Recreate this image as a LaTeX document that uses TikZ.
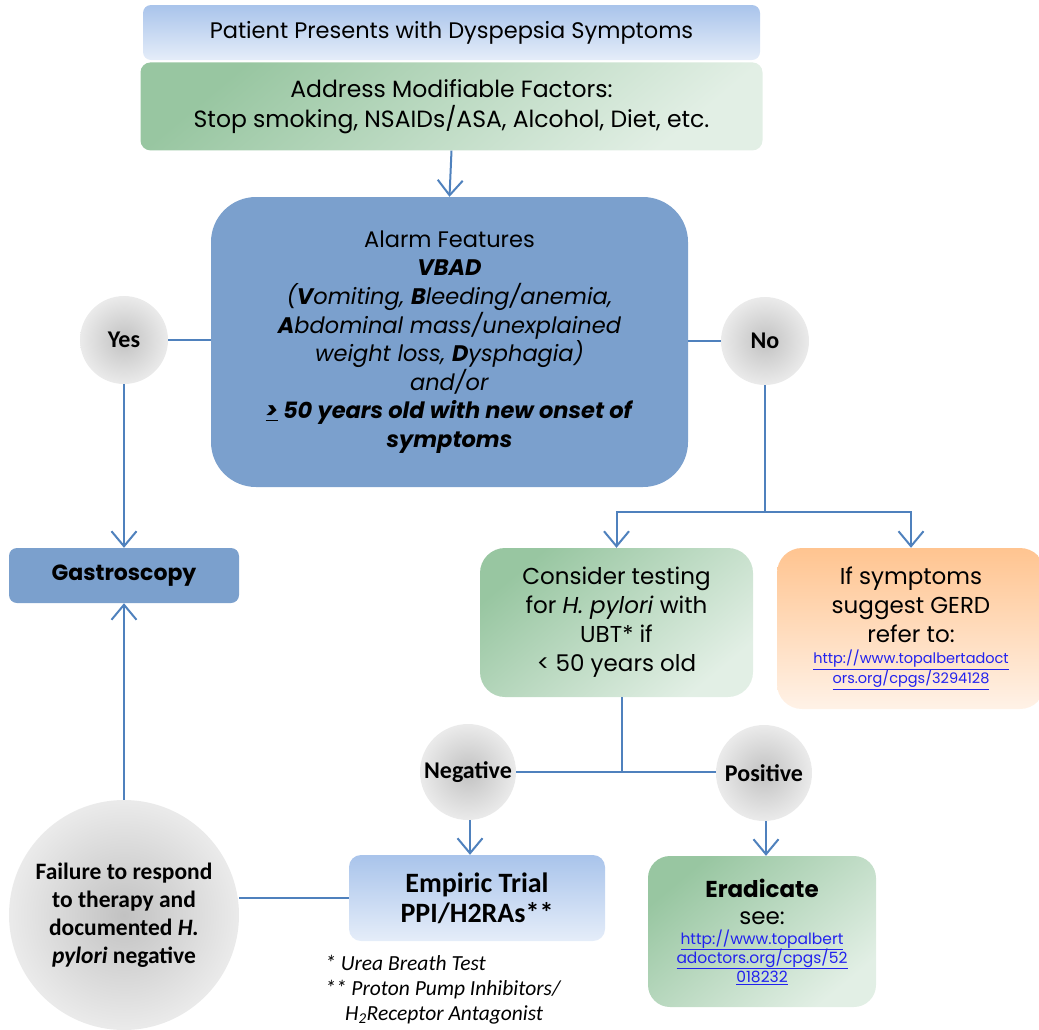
\documentclass[tikz,border=0pt]{standalone}
\usepackage{fontspec}
\setmainfont{Poppins}
\newfontfamily\calib{Carlito}
\usetikzlibrary{positioning, arrows.meta}
\definecolor{linea}{HTML}{4F81BD}
\definecolor{alarma}{HTML}{7BA0CD}
\definecolor{azulA}{HTML}{A9C4EB}
\definecolor{azulB}{HTML}{E5EDF9}
\definecolor{verdeA}{HTML}{98C6A1}
\definecolor{verdeB}{HTML}{E2EFE5}
\definecolor{naranjaA}{HTML}{FFC490}
\definecolor{naranjaB}{HTML}{FFF2E7}
\definecolor{enlace}{HTML}{2222EE}
\tikzset{flecha/.style={line width=2pt, color=linea, -{Straight Barb[length=15pt,width=25pt,line width=2pt]}}}
\tikzset{trazo/.style={line width=2pt, color=linea}}
\tikzset{bola/.style={circle, inner color=black!24, outer color=black!8, align=center, inner sep=0pt}}
\tikzset{cajaazul/.style={rounded corners=8pt, top color=azulA, bottom color=azulB, align=center}}
\tikzset{cajaverde/.style={rounded corners=#1, top color=verdeA, bottom color=verdeB, shading angle=40, align=center}}
\newcommand{\enl}[2][14.5]{{\fontsize{#1}{19}\selectfont\color{enlace}\underline{#2}}}

\begin{document}
\begin{tikzpicture}[
                x=1pt, y=-1pt,
                every node/.style={text=black}
            ]
                \useasboundingbox (0,0) rectangle (1039,1029);
                % cajas de arriba
                \node[cajaazul, minimum width=617pt, minimum height=55pt, font=\fontsize{22.5}{26}\selectfont] (paciente) at (451.5,32.5) {Patient Presents with Dyspepsia Symptoms};
                \node[cajaverde=10pt, below=2pt of paciente, minimum width=622pt, minimum height=88pt, font=\fontsize{23.5}{30}\selectfont] (factores) {Address Modifiable Factors:\\Stop smoking, NSAIDs/ASA, Alcohol, Diet, etc.};
                \node[rounded corners=45pt, fill=alarma, minimum width=477pt, minimum height=290pt, align=center, font=\fontsize{22.5}{28.6}\selectfont] (alarma) at (449.5,342) {Alarm Features\\
                    \textbf{\textit{VBAD}}\\
                    \textit{(\textbf{V}omiting, \textbf{B}leeding/anemia,}\\
                    \textit{\textbf{A}bdominal mass/unexplained}\\
                    \textit{weight loss, \textbf{D}ysphagia)}\\
                    \textit{and/or}\\
                    \textbf{\textit{\underline{>} 50 years old with new onset of}}\\
                    \textbf{\textit{symptoms}}};
                \node[bola, minimum size=88pt, font=\calib\bfseries\fontsize{24}{26}\selectfont] (si) at (124,340) {Yes};
                \node[bola, minimum size=88pt, font=\calib\bfseries\fontsize{24}{26}\selectfont] (no) at (765,341) {No};
                \node[rounded corners=8pt, fill=alarma, minimum width=230pt, minimum height=55pt, font=\bfseries\fontsize{22}{24}\selectfont] (gastro) at (124,575.5) {Gastroscopy};
                % rama del no
                \node[cajaverde=25pt, minimum width=273pt, minimum height=149pt, font=\fontsize{23}{29}\selectfont] (prueba) at (616.5,622.5) {Consider testing\\for \textit{H. pylori} with\\UBT* if\\< 50 years old};
                \node[rounded corners=25pt, top color=naranjaA, bottom color=naranjaB, minimum width=268pt, minimum height=161pt, align=center, font=\fontsize{23}{29}\selectfont] (gerd) at (911,628.5) {If symptoms\\suggest GERD\\refer to:\\[-8pt]\enl{http://www.topalbertadoct}\\[-9pt]\enl{ors.org/cpgs/3294128}};
                \node[bola, minimum size=96pt, font=\calib\bfseries\fontsize{24}{26}\selectfont] (negativo) at (468,772) {Negative};
                \node[bola, minimum size=96pt, font=\calib\bfseries\fontsize{24}{26}\selectfont] (positivo) at (764,773) {Positive};
                % abajo
                \node[cajaazul, rounded corners=12pt, minimum width=256pt, minimum height=86pt, font=\calib\bfseries\fontsize{28}{30}\selectfont] (empirico) at (477,898) {Empiric Trial\\PPI/H2RAs**};
                \node[cajaverde=22pt, minimum width=228pt, minimum height=151pt, font=\fontsize{23}{27}\selectfont] (erradicar) at (762,931.5) {\textbf{Eradicate}\\see:\\[-7pt]\enl[15.5]{http://www.topalbert}\\[-8pt]\enl[15.5]{adoctors.org/cpgs/52}\\[-8pt]\enl[15.5]{018232}};
                \node[bola, minimum size=230pt, font=\calib\bfseries\fontsize{23.5}{28}\selectfont] (fracaso) at (124,915) {Failure to respond\\to therapy and\\documented \textit{H.}\\\textit{pylori} negative};
                \node[anchor=north west, align=left, inner sep=0pt, font=\calib\itshape\fontsize{21.5}{25}\selectfont] (notas) at (325,955) {* Urea Breath Test\\** Proton Pump Inhibitors/\\\hspace*{20pt}H\textsubscript{2}Receptor Antagonist};
                \coordinate (cruce) at (765,512);

                \draw[flecha] (factores.south) -- (alarma.north);
                \draw[trazo] (si.east) -- (si.east -| alarma.west);
                \draw[flecha] (si.south) -- (gastro.north);
                \draw[trazo] (alarma.east |- no.west) -- (no.west);
                \draw[trazo] (no.south) -- (cruce);
                \draw[flecha] (cruce) -| (prueba.north);
                \draw[flecha] (cruce) -| (gerd.north);
                \draw[trazo] ([xshift=5pt]prueba.south) -- ([xshift=5pt]prueba.south |- negativo.east);
                \draw[trazo] (negativo.east) -- (negativo.east -| positivo.west);
                \draw[flecha] ([xshift=2pt]negativo.south) -- ([xshift=2pt]negativo.south |- empirico.north);
                \draw[flecha] ([xshift=2pt]positivo.south) -- ([xshift=2pt]positivo.south |- erradicar.north);
                \draw[trazo] (empirico.west) -- (empirico.west -| fracaso.east);
                \draw[flecha] (fracaso.north) -- (gastro.south);
            \end{tikzpicture}
\end{document}
